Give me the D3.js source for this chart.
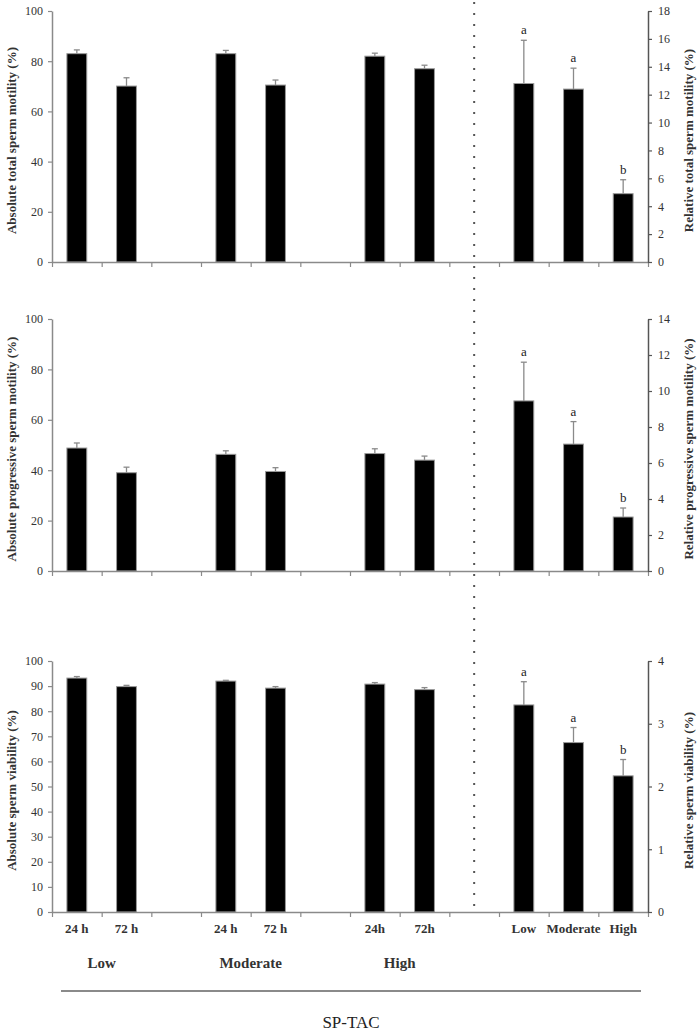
<!DOCTYPE html>
<html>
<head>
<meta charset="utf-8">
<script src="https://cdn.jsdelivr.net/npm/d3@7"></script>
<style>
  body { margin: 0; background: #fff; }
  text { font-family: "Liberation Serif", "Times New Roman", serif; }
</style>
</head>
<body>
<div id="chart"></div>
<script>
// Data

const levels = ["Low", "Moderate", "High"];
const timeLabels = [["24 h", "72 h"], ["24 h", "72 h"], ["24h", "72h"]];
const letters = ["a", "a", "b"];

const absTotal = [83.0, 70.1, 83.0, 70.5, 82.0, 77.0];
const absTotalErr = [1.5, 3.3, 1.3, 2.0, 1.2, 1.4];
const relTotal = [12.8, 12.4, 4.9];
const relTotalErr = [3.1, 1.5, 1.0];

const absProg = [48.8, 39.0, 46.3, 39.5, 46.6, 44.0];
const absProgErr = [2.0, 2.2, 1.4, 1.5, 1.9, 1.6];
const relProg = [9.45, 7.05, 3.0];
const relProgErr = [2.15, 1.25, 0.5];

const absVia = [93.2, 89.8, 92.0, 89.2, 90.8, 88.6];
const absViaErr = [0.6, 0.5, 0.3, 0.6, 0.6, 0.8];
const relVia = [3.3, 2.7, 2.17];
const relViaErr = [0.37, 0.24, 0.26];

// Slot layout: two time bars + gap per level, then relative bars

const slots = [];
levels.forEach((lv, i) => {
  timeLabels[i].forEach((t) => slots.push({ key: lv + "|" + t, label: t }));
  slots.push({ key: "gap" + i, label: "" });
});
levels.forEach((lv) => slots.push({ key: "rel|" + lv, label: lv }));
const absKeys = levels.flatMap((lv, i) => timeLabels[i].map((t) => lv + "|" + t));
const relKeys = levels.map((lv) => "rel|" + lv);

const width = 700;
const height = 1031;
const left = 52;
const right = 648;
const serif = "'Liberation Serif', 'Times New Roman', serif";

const panels = [
  { top: 11, bottom: 262, lMax: 100, lStep: 20, rMax: 18, rStep: 2,
    lTitle: "Absolute total sperm motility (%)", rTitle: "Relative total sperm motility (%)",
    abs: absTotal, absErr: absTotalErr, rel: relTotal, relErr: relTotalErr },
  { top: 319, bottom: 571, lMax: 100, lStep: 20, rMax: 14, rStep: 2,
    lTitle: "Absolute progressive sperm motility (%)", rTitle: "Relative progressive sperm motility (%)",
    abs: absProg, absErr: absProgErr, rel: relProg, relErr: relProgErr },
  { top: 661, bottom: 912, lMax: 100, lStep: 10, rMax: 4, rStep: 1,
    lTitle: "Absolute sperm viability (%)", rTitle: "Relative sperm viability (%)",
    abs: absVia, absErr: absViaErr, rel: relVia, relErr: relViaErr },
];

const svg = d3.select("#chart").append("svg").attr("width", width).attr("height", height);

const x = d3.scaleBand().domain(slots.map((d) => d.key)).range([left, right]).paddingInner(0).paddingOuter(0);
const xEdge = d3.scaleLinear().domain([0, slots.length]).range([left, right]);
const bw = x.bandwidth() * 0.4;

// Dotted divider in the last gap
const divX = x("gap2") + x.bandwidth() / 2;
svg.append("line")
  .attr("x1", divX).attr("x2", divX)
  .attr("y1", 2).attr("y2", 914)
  .attr("stroke", "#555")
  .attr("stroke-width", 2)
  .attr("stroke-dasharray", "2,9");

function styleAxis(g, color) {
  g.attr("font-family", serif).attr("font-size", 12);
  g.select(".domain").attr("stroke", color).attr("stroke-width", 1.5);
  g.selectAll(".tick line").attr("stroke", color).attr("stroke-width", 1.2);
  g.selectAll(".tick text").attr("fill", "#333");
}

function drawBars(g, keys, vals, errs, y, withLetters) {
  const err = g.append("g");
  keys.forEach((k, i) => {
    const cx = x(k) + x.bandwidth() / 2;
    const y0 = y(vals[i]);
    const y1 = y(vals[i] + errs[i]);
    err.append("line").attr("x1", cx).attr("x2", cx).attr("y1", y0).attr("y2", y1)
      .attr("stroke", "#8a8a8a").attr("stroke-width", 1.3);
    err.append("line").attr("x1", cx - 3).attr("x2", cx + 3).attr("y1", y1).attr("y2", y1)
      .attr("stroke", "#8a8a8a").attr("stroke-width", 1.3);
    if (withLetters) {
      g.append("text").attr("x", cx).attr("y", y1 - 6)
        .attr("text-anchor", "middle").style("font-size", "13px").attr("fill", "#222")
        .text(letters[i]);
    }
  });
  g.selectAll(null)
    .data(keys.map((k, i) => ({ k, v: vals[i] })))
    .enter()
    .append("rect")
    .attr("x", (d) => x(d.k) + (x.bandwidth() - bw) / 2)
    .attr("width", bw)
    .attr("y", (d) => y(d.v))
    .attr("height", (d) => y(0) - y(d.v))
    .attr("fill", "#000")
    .attr("stroke", "#9a9a9a")
    .attr("stroke-width", 1);
}

panels.forEach((p, pi) => {
  const yL = d3.scaleLinear().domain([0, p.lMax]).range([p.bottom, p.top]);
  const yR = d3.scaleLinear().domain([0, p.rMax]).range([p.bottom, p.top]);
  const g = svg.append("g");

  // Bars

  drawBars(g, absKeys, p.abs, p.absErr, yL, false);
  drawBars(g, relKeys, p.rel, p.relErr, yR, true);

  // Axis

  const xa = g.append("g")
    .attr("transform", `translate(0,${p.bottom})`)
    .call(d3.axisBottom(xEdge).tickValues(d3.range(0, slots.length + 1)).tickFormat("").tickSize(5).tickSizeOuter(0));
  styleAxis(xa, "#8a8a8a");

  const la = g.append("g")
    .attr("transform", `translate(${left},0)`)
    .call(d3.axisLeft(yL).tickValues(d3.range(0, p.lMax + 1, p.lStep)).tickFormat(d3.format("d")).tickSize(4).tickPadding(5).tickSizeOuter(0));
  styleAxis(la, "#8a8a8a");

  const ra = g.append("g")
    .attr("transform", `translate(${right},0)`)
    .call(d3.axisRight(yR).tickValues(d3.range(0, p.rMax + 1, p.rStep)).tickFormat(d3.format("d")).tickSize(4).tickPadding(6).tickSizeOuter(0));
  styleAxis(ra, "#555");

  const mid = (p.top + p.bottom) / 2 + 4;
  g.append("text")
    .attr("transform", `translate(16,${mid}) rotate(-90)`)
    .attr("text-anchor", "middle")
    .style("font-size", "13px").style("font-weight", "bold").attr("fill", "#333")
    .text(p.lTitle);
  g.append("text")
    .attr("transform", `translate(693,${mid}) rotate(-90)`)
    .attr("text-anchor", "middle")
    .style("font-size", "13px").style("font-weight", "bold").attr("fill", "#333")
    .text(p.rTitle);

  if (pi === panels.length - 1) {
    g.selectAll(null)
      .data(slots.filter((d) => d.label))
      .enter()
      .append("text")
      .attr("x", (d) => x(d.key) + x.bandwidth() / 2)
      .attr("y", p.bottom + 21)
      .attr("text-anchor", "middle")
      .style("font-size", "13px").style("font-weight", "bold").attr("fill", "#333")
      .text((d) => d.label);
  }
});

// Group labels and SP-TAC

svg.selectAll(null)
  .data(levels)
  .enter()
  .append("text")
  .attr("x", (d, i) => x(d + "|" + timeLabels[i][1]))
  .attr("y", 968)
  .attr("text-anchor", "middle")
  .style("font-size", "15px").style("font-weight", "bold").attr("fill", "#333")
  .text((d) => d);

svg.append("line")
  .attr("x1", 61).attr("x2", 641)
  .attr("y1", 991).attr("y2", 991)
  .attr("stroke", "#8a8a8a").attr("stroke-width", 2);

svg.append("text")
  .attr("x", 351).attr("y", 1028)
  .attr("text-anchor", "middle")
  .style("font-size", "17px").attr("fill", "#222")
  .text("SP-TAC");
</script>
</body>
</html>
